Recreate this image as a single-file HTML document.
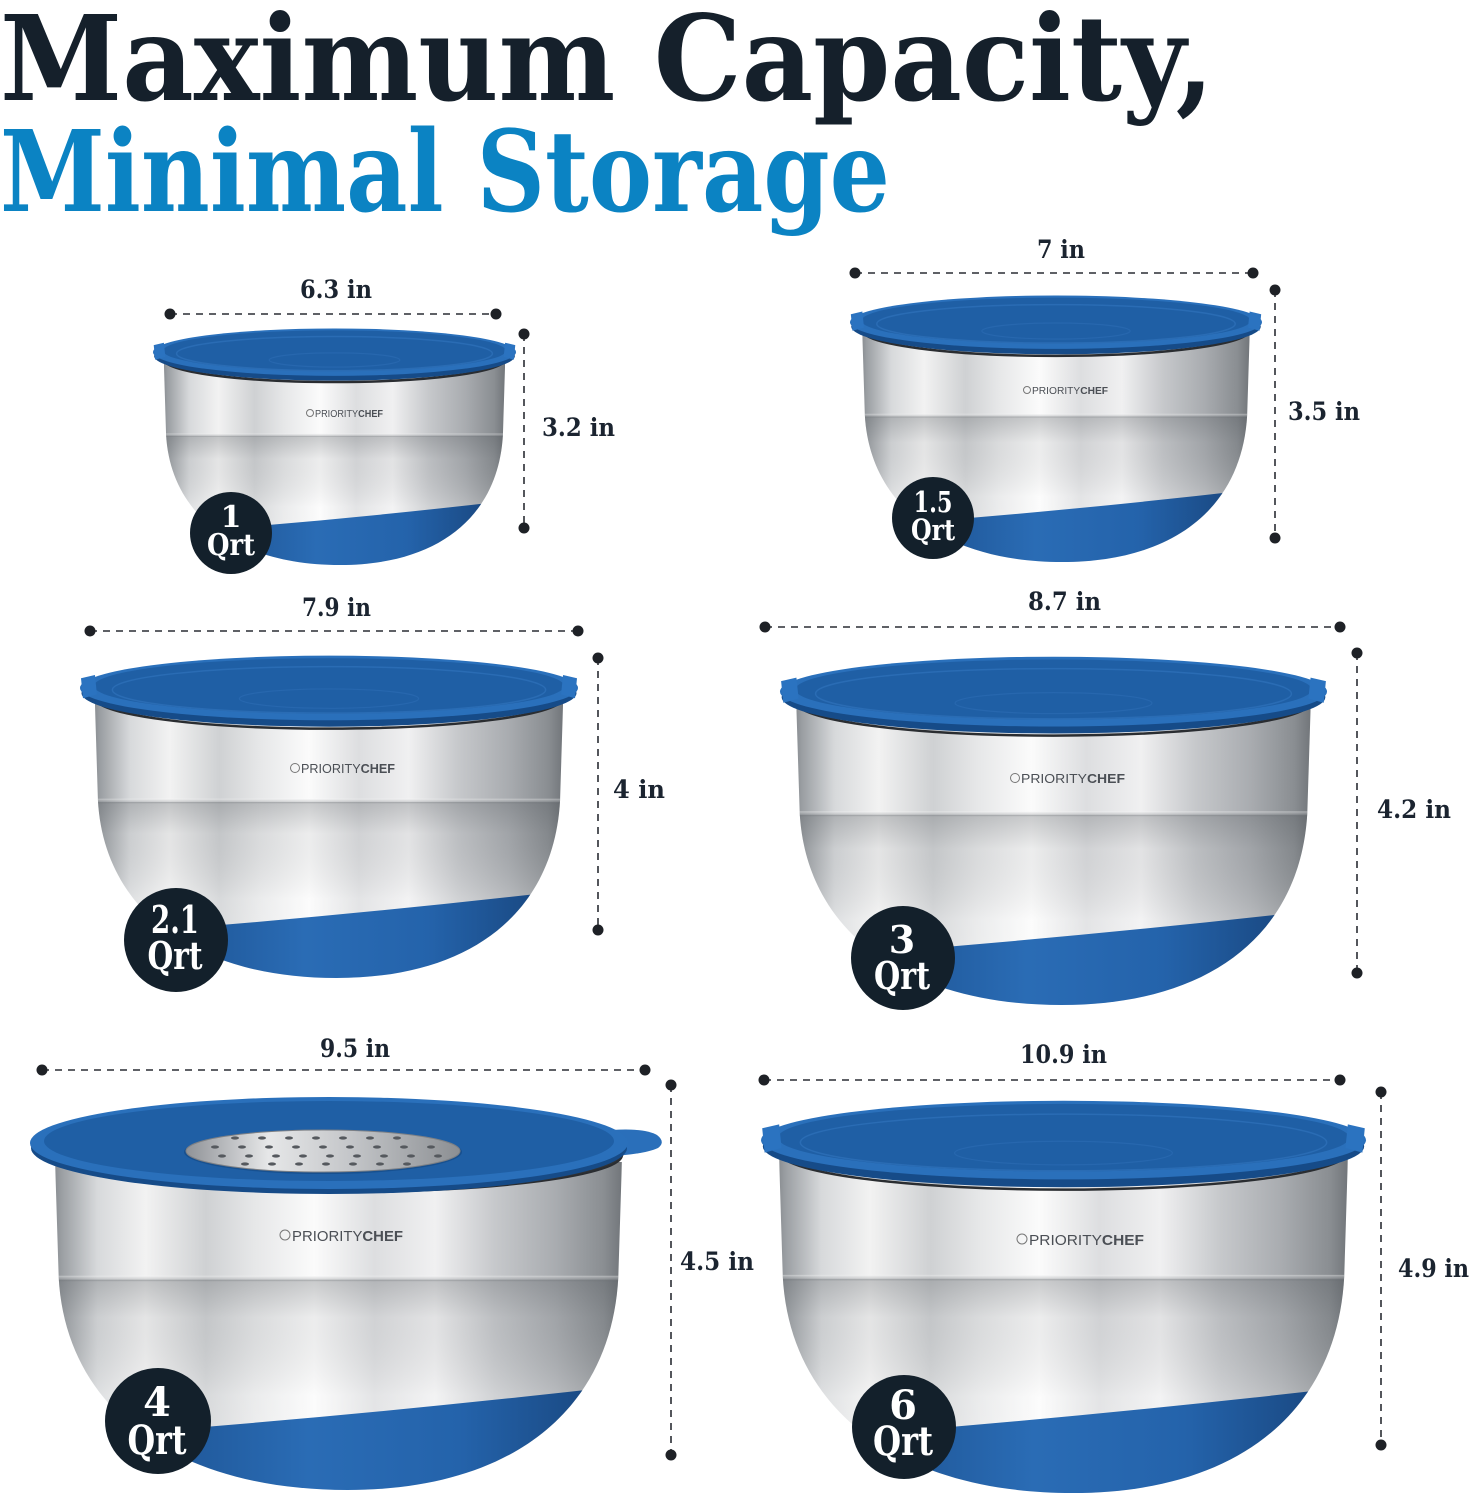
<!DOCTYPE html>
<html><head><meta charset="utf-8"><style>
html,body{margin:0;padding:0;background:#fff;}
svg{display:block;}
</style></head><body>
<svg width="1473" height="1500" viewBox="0 0 1473 1500" xmlns="http://www.w3.org/2000/svg">
<defs>
<linearGradient id="steel" x1="0" y1="0" x2="1" y2="0">
<stop offset="0" stop-color="#5d6166"/><stop offset="0.04" stop-color="#9a9ea2"/><stop offset="0.10" stop-color="#d7d9db"/><stop offset="0.18" stop-color="#f2f2f2"/><stop offset="0.28" stop-color="#cfd1d3"/><stop offset="0.36" stop-color="#e6e7e8"/><stop offset="0.46" stop-color="#fbfbfb"/><stop offset="0.56" stop-color="#dddee0"/><stop offset="0.66" stop-color="#f0f0f1"/><stop offset="0.76" stop-color="#c6c8cb"/><stop offset="0.86" stop-color="#a9acb0"/><stop offset="0.94" stop-color="#8a8e92"/><stop offset="1" stop-color="#5a5e63"/>
</linearGradient>
<linearGradient id="lower" x1="0" y1="0" x2="0" y2="1">
<stop offset="0" stop-color="#464b50" stop-opacity="0.28"/><stop offset="0.18" stop-color="#464b50" stop-opacity="0.08"/><stop offset="0.55" stop-color="#ffffff" stop-opacity="0.18"/><stop offset="1" stop-color="#ffffff" stop-opacity="0.3"/>
</linearGradient>
<linearGradient id="seam" x1="0" y1="0" x2="0" y2="1">
<stop offset="0" stop-color="#ffffff" stop-opacity="0.4"/><stop offset="1" stop-color="#5a5f64" stop-opacity="0.25"/>
</linearGradient>
<linearGradient id="baseg" x1="0" y1="0" x2="1" y2="0">
<stop offset="0" stop-color="#143f73"/><stop offset="0.15" stop-color="#1c5190"/><stop offset="0.45" stop-color="#2a6cb5"/><stop offset="0.7" stop-color="#2463ab"/><stop offset="1" stop-color="#163f73"/>
</linearGradient>
<linearGradient id="grate" x1="0" y1="0" x2="1" y2="0">
<stop offset="0" stop-color="#8f9297"/><stop offset="0.3" stop-color="#e6e7e8"/><stop offset="0.6" stop-color="#c4c6c9"/><stop offset="1" stop-color="#8c8f93"/>
</linearGradient>
<clipPath id="bclip"><path d="M30,150 L36,450 C48,790 230,1000 515,1000 C790,1000 952,790 964,450 L970,150 Z"/></clipPath>
<symbol id="body" viewBox="0 0 1000 1000" preserveAspectRatio="none" overflow="visible">
 <g clip-path="url(#bclip)">
  <rect x="0" y="0" width="1000" height="1000" fill="url(#steel)"/>
  <rect x="0" y="455" width="1000" height="545" fill="url(#lower)"/>
  <rect x="0" y="445" width="1000" height="14" fill="url(#seam)"/>
  <path d="M0,870 Q500,815 1000,725 L1000,1010 L0,1010Z" fill="url(#baseg)"/>
 </g>
 <ellipse cx="500" cy="132" rx="470" ry="96" fill="none" stroke="#2a2d31" stroke-width="2.5" vector-effect="non-scaling-stroke"/>
</symbol>
<symbol id="lid" viewBox="0 0 1000 1000" preserveAspectRatio="none" overflow="visible">
 <ellipse cx="500" cy="118" rx="497" ry="104" fill="#164b88"/>
 <ellipse cx="500" cy="102" rx="500" ry="100" fill="#2a70bb"/>
 <ellipse cx="500" cy="96" rx="472" ry="86" fill="#1f5fa5"/>
 <ellipse cx="500" cy="108" rx="435" ry="72" fill="none" stroke="#2a6cb4" stroke-width="1.5" vector-effect="non-scaling-stroke"/>
 <ellipse cx="500" cy="135" rx="180" ry="30" fill="none" stroke="#2767ae" stroke-width="1.2" vector-effect="non-scaling-stroke"/>
 <path d="M2,72 L30,62 L34,122 L6,134 Z" fill="#2b73c0"/>
 <path d="M998,72 L970,62 L966,122 L994,134 Z" fill="#2b73c0"/>
</symbol>
</defs>

<!-- Title -->
<text x="0" y="100" font-family="DejaVu Serif, Liberation Serif, serif" font-weight="bold" font-size="118" textLength="1214" lengthAdjust="spacingAndGlyphs" fill="#15202b">Maximum Capacity,</text>
<text x="0" y="211" font-family="DejaVu Serif, Liberation Serif, serif" font-weight="bold" font-size="112" textLength="890" lengthAdjust="spacingAndGlyphs" fill="#0b83c3">Minimal Storage</text>

<!-- Bowls -->
<use href="#body" x="153" y="328" width="363" height="237"/>
<use href="#lid" x="153" y="328" width="363" height="237"/>

<use href="#body" x="850" y="295" width="412" height="267"/>
<use href="#lid" x="850" y="295" width="412" height="267"/>

<use href="#body" x="80" y="655" width="498" height="323"/>
<use href="#lid" x="80" y="655" width="498" height="323"/>

<use href="#body" x="780" y="656" width="547" height="349"/>
<use href="#lid" x="780" y="656" width="547" height="349"/>

<use href="#body" x="761" y="1100" width="605" height="393"/>
<use href="#lid" x="761" y="1100" width="605" height="393"/>

<!-- 4 Qrt bowl -->
<use href="#body" x="37" y="1104" width="603" height="386"/>
<ellipse cx="332" cy="1150" rx="292" ry="42" fill="none" stroke="#2f3236" stroke-width="3"/>
<path d="M612,1130 Q645,1128 657,1135 Q666,1142 658,1148 Q645,1154 612,1156 Z" fill="#2a6fba"/>
<ellipse cx="329" cy="1148" rx="298" ry="46" fill="#164b88"/>
<ellipse cx="329" cy="1143" rx="299" ry="46" fill="#2a70bb"/>
<ellipse cx="329" cy="1141" rx="285" ry="40" fill="#1f5fa5"/>
<ellipse cx="323" cy="1152" rx="139" ry="22" fill="#17508f"/>
<ellipse cx="323" cy="1151" rx="137" ry="21" fill="url(#grate)" stroke="#7d8085" stroke-width="1"/>
<g fill="#55595e">
<ellipse cx="235" cy="1138" rx="4" ry="1.6"/><ellipse cx="262" cy="1138" rx="4" ry="1.6"/><ellipse cx="289" cy="1138" rx="4" ry="1.6"/><ellipse cx="316" cy="1138" rx="4" ry="1.6"/><ellipse cx="343" cy="1138" rx="4" ry="1.6"/><ellipse cx="370" cy="1138" rx="4" ry="1.6"/><ellipse cx="397" cy="1138" rx="4" ry="1.6"/>
<ellipse cx="215" cy="1147" rx="4" ry="1.6"/><ellipse cx="242" cy="1147" rx="4" ry="1.6"/><ellipse cx="269" cy="1147" rx="4" ry="1.6"/><ellipse cx="296" cy="1147" rx="4" ry="1.6"/><ellipse cx="323" cy="1147" rx="4" ry="1.6"/><ellipse cx="350" cy="1147" rx="4" ry="1.6"/><ellipse cx="377" cy="1147" rx="4" ry="1.6"/><ellipse cx="404" cy="1147" rx="4" ry="1.6"/><ellipse cx="431" cy="1147" rx="4" ry="1.6"/>
<ellipse cx="222" cy="1156" rx="4" ry="1.6"/><ellipse cx="249" cy="1156" rx="4" ry="1.6"/><ellipse cx="276" cy="1156" rx="4" ry="1.6"/><ellipse cx="303" cy="1156" rx="4" ry="1.6"/><ellipse cx="330" cy="1156" rx="4" ry="1.6"/><ellipse cx="357" cy="1156" rx="4" ry="1.6"/><ellipse cx="384" cy="1156" rx="4" ry="1.6"/><ellipse cx="411" cy="1156" rx="4" ry="1.6"/><ellipse cx="438" cy="1156" rx="4" ry="1.6"/>
<ellipse cx="245" cy="1164" rx="4" ry="1.6"/><ellipse cx="272" cy="1164" rx="4" ry="1.6"/><ellipse cx="299" cy="1164" rx="4" ry="1.6"/><ellipse cx="326" cy="1164" rx="4" ry="1.6"/><ellipse cx="353" cy="1164" rx="4" ry="1.6"/><ellipse cx="380" cy="1164" rx="4" ry="1.6"/><ellipse cx="407" cy="1164" rx="4" ry="1.6"/>
</g>

<!-- Logos -->
<g font-family="Liberation Sans, sans-serif" fill="#4b4f55">
<circle cx="310" cy="413" r="3.5" fill="none" stroke="#777" stroke-width="1"/>
<text x="315" y="417" font-size="10" textLength="68" lengthAdjust="spacingAndGlyphs">PRIORITY<tspan font-weight="bold">CHEF</tspan></text>
<circle cx="1027" cy="390" r="3.5" fill="none" stroke="#777" stroke-width="1"/>
<text x="1032" y="394" font-size="10.5" textLength="76" lengthAdjust="spacingAndGlyphs">PRIORITY<tspan font-weight="bold">CHEF</tspan></text>
<circle cx="295" cy="768" r="4.5" fill="none" stroke="#777" stroke-width="1"/>
<text x="301" y="773" font-size="13" textLength="94" lengthAdjust="spacingAndGlyphs">PRIORITY<tspan font-weight="bold">CHEF</tspan></text>
<circle cx="1015" cy="778" r="4.5" fill="none" stroke="#777" stroke-width="1"/>
<text x="1021" y="783" font-size="13" textLength="104" lengthAdjust="spacingAndGlyphs">PRIORITY<tspan font-weight="bold">CHEF</tspan></text>
<circle cx="285" cy="1235" r="5" fill="none" stroke="#777" stroke-width="1"/>
<text x="292" y="1241" font-size="15" textLength="111" lengthAdjust="spacingAndGlyphs">PRIORITY<tspan font-weight="bold">CHEF</tspan></text>
<circle cx="1022" cy="1239" r="5" fill="none" stroke="#777" stroke-width="1"/>
<text x="1029" y="1245" font-size="15" textLength="115" lengthAdjust="spacingAndGlyphs">PRIORITY<tspan font-weight="bold">CHEF</tspan></text>
</g>

<!-- Dimension lines -->
<g stroke="#2a2d33" stroke-width="1.6" stroke-dasharray="7 6" fill="none">
<line x1="170" y1="314" x2="496" y2="314"/><line x1="524" y1="334" x2="524" y2="528"/>
<line x1="855" y1="273" x2="1253" y2="273"/><line x1="1275" y1="290" x2="1275" y2="538"/>
<line x1="90" y1="631" x2="578" y2="631"/><line x1="598" y1="658" x2="598" y2="930"/>
<line x1="765" y1="627" x2="1340" y2="627"/><line x1="1357" y1="653" x2="1357" y2="973"/>
<line x1="42" y1="1070" x2="645" y2="1070"/><line x1="671" y1="1085" x2="671" y2="1455"/>
<line x1="764" y1="1080" x2="1340" y2="1080"/><line x1="1381" y1="1092" x2="1381" y2="1445"/>
</g>
<g fill="#1e2126">
<circle cx="170" cy="314" r="5.5"/><circle cx="496" cy="314" r="5.5"/><circle cx="524" cy="334" r="5.5"/><circle cx="524" cy="528" r="5.5"/>
<circle cx="855" cy="273" r="5.5"/><circle cx="1253" cy="273" r="5.5"/><circle cx="1275" cy="290" r="5.5"/><circle cx="1275" cy="538" r="5.5"/>
<circle cx="90" cy="631" r="5.5"/><circle cx="578" cy="631" r="5.5"/><circle cx="598" cy="658" r="5.5"/><circle cx="598" cy="930" r="5.5"/>
<circle cx="765" cy="627" r="5.5"/><circle cx="1340" cy="627" r="5.5"/><circle cx="1357" cy="653" r="5.5"/><circle cx="1357" cy="973" r="5.5"/>
<circle cx="42" cy="1070" r="5.5"/><circle cx="645" cy="1070" r="5.5"/><circle cx="671" cy="1085" r="5.5"/><circle cx="671" cy="1455" r="5.5"/>
<circle cx="764" cy="1080" r="5.5"/><circle cx="1340" cy="1080" r="5.5"/><circle cx="1381" cy="1092" r="5.5"/><circle cx="1381" cy="1445" r="5.5"/>
</g>

<!-- Dimension labels -->
<g font-family="DejaVu Serif, Liberation Serif, serif" font-weight="bold" font-size="25" fill="#1b2430">
<text x="300" y="298" textLength="72" lengthAdjust="spacingAndGlyphs">6.3 in</text>
<text x="542" y="436" textLength="73" lengthAdjust="spacingAndGlyphs">3.2 in</text>
<text x="1037" y="258" textLength="48" lengthAdjust="spacingAndGlyphs">7 in</text>
<text x="1288" y="420" textLength="72" lengthAdjust="spacingAndGlyphs">3.5 in</text>
<text x="302" y="616" textLength="69" lengthAdjust="spacingAndGlyphs">7.9 in</text>
<text x="613" y="798" textLength="52" lengthAdjust="spacingAndGlyphs">4 in</text>
<text x="1028" y="610" textLength="73" lengthAdjust="spacingAndGlyphs">8.7 in</text>
<text x="1377" y="818" textLength="74" lengthAdjust="spacingAndGlyphs">4.2 in</text>
<text x="320" y="1057" textLength="70" lengthAdjust="spacingAndGlyphs">9.5 in</text>
<text x="680" y="1270" textLength="74" lengthAdjust="spacingAndGlyphs">4.5 in</text>
<text x="1020" y="1063" textLength="87" lengthAdjust="spacingAndGlyphs">10.9 in</text>
<text x="1398" y="1277" textLength="71" lengthAdjust="spacingAndGlyphs">4.9 in</text>
</g>

<!-- Badges -->
<g fill="#13202b">
<circle cx="231" cy="533" r="41"/>
<circle cx="933" cy="518" r="41"/>
<circle cx="176" cy="940" r="52"/>
<circle cx="903" cy="958" r="52"/>
<circle cx="158" cy="1421" r="53"/>
<circle cx="904" cy="1427" r="52"/>
</g>
<g font-family="DejaVu Serif, Liberation Serif, serif" font-weight="bold" fill="#ffffff" text-anchor="middle">
<text x="231" y="527" font-size="30">1</text>
<text x="231" y="555" font-size="30" textLength="48" lengthAdjust="spacingAndGlyphs">Qrt</text>
<text x="933" y="512" font-size="29" textLength="39" lengthAdjust="spacingAndGlyphs">1.5</text>
<text x="933" y="540" font-size="29" textLength="44" lengthAdjust="spacingAndGlyphs">Qrt</text>
<text x="175" y="933" font-size="38" textLength="48" lengthAdjust="spacingAndGlyphs">2.1</text>
<text x="175" y="969" font-size="38" textLength="55" lengthAdjust="spacingAndGlyphs">Qrt</text>
<text x="902" y="953" font-size="38">3</text>
<text x="902" y="989" font-size="38" textLength="56" lengthAdjust="spacingAndGlyphs">Qrt</text>
<text x="157" y="1416" font-size="40">4</text>
<text x="157" y="1454" font-size="40" textLength="59" lengthAdjust="spacingAndGlyphs">Qrt</text>
<text x="903" y="1419" font-size="40">6</text>
<text x="903" y="1455" font-size="40" textLength="60" lengthAdjust="spacingAndGlyphs">Qrt</text>
</g>
</svg>
</body></html>
